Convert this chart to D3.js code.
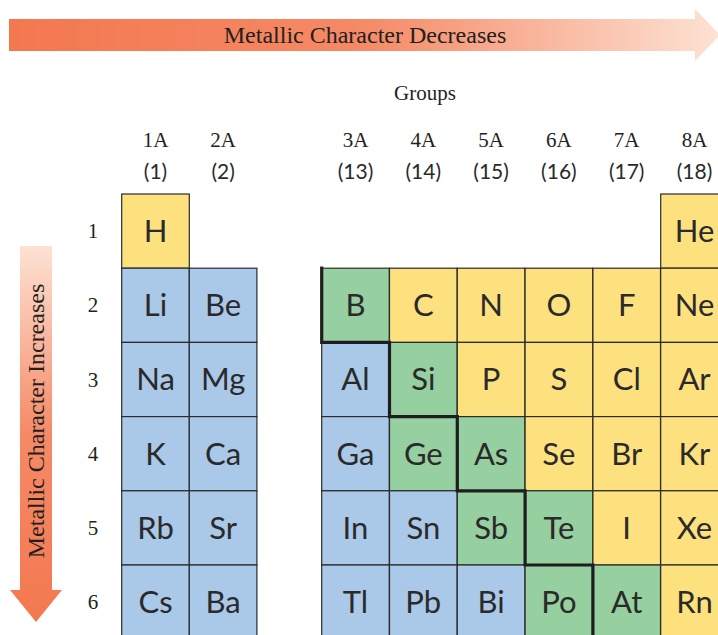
<!DOCTYPE html>
<html>
<head>
<meta charset="utf-8">
<script src="https://cdn.jsdelivr.net/npm/d3@7"></script>
<style>
  html, body { margin: 0; padding: 0; background: #fff; }
  svg { display: block; }
</style>
</head>
<body>
<svg id="chart" width="718" height="635"></svg>
<script>
// ---- data ----
const symbols = ["H","He",
  "Li","Be","B","C","N","O","F","Ne",
  "Na","Mg","Al","Si","P","S","Cl","Ar",
  "K","Ca","Ga","Ge","As","Se","Br","Kr",
  "Rb","Sr","In","Sn","Sb","Te","I","Xe",
  "Cs","Ba","Tl","Pb","Bi","Po","At","Rn"];
const groups = [1,18,
  1,2,13,14,15,16,17,18,
  1,2,13,14,15,16,17,18,
  1,2,13,14,15,16,17,18,
  1,2,13,14,15,16,17,18,
  1,2,13,14,15,16,17,18];
const periods = [1,1,
  2,2,2,2,2,2,2,2,
  3,3,3,3,3,3,3,3,
  4,4,4,4,4,4,4,4,
  5,5,5,5,5,5,5,5,
  6,6,6,6,6,6,6,6];
// n = nonmetal, m = metal, s = metalloid
const kinds = ["n","n",
  "m","m","s","n","n","n","n","n",
  "m","m","m","s","n","n","n","n",
  "m","m","m","s","s","n","n","n",
  "m","m","m","m","s","s","n","n",
  "m","m","m","m","m","s","s","n"];
const groupLabels = ["1A","2A","3A","4A","5A","6A","7A","8A"];
const groupNumbers = [1,2,13,14,15,16,17,18];
const periodLabels = [1,2,3,4,5,6];
// metalloid boundary: [group, period] corners of the staircase
const stairGroups = [13,13,14,14,15,15,16,16,17,17];
const stairPeriods = [2,3,3,4,4,5,5,6,6,7];

// ---- layout ----
const svg = d3.select("#chart");
const colorOf = d3.scaleOrdinal().domain(["n","m","s"]).range(["#fee17f","#aac8e8","#96cfa0"]);

const xLeft = d3.scaleLinear().domain([1,3]).range([121.7, 256.9]);
const xRight = d3.scaleLinear().domain([13,18]).range([321.7, 660.7]);
const x = g => g <= 2 ? xLeft(g) : xRight(g);
const cw = xLeft(2) - xLeft(1);
const y = d3.scaleLinear().domain([1,7]).range([194, 639.2]);
const rh = y(2) - y(1);

// ---- gradients ----
const defs = svg.append("defs");
const gH = defs.append("linearGradient").attr("id","gH").attr("x1","0").attr("x2","1").attr("y1","0").attr("y2","0");
gH.append("stop").attr("offset","0").attr("stop-color","#f37850");
gH.append("stop").attr("offset","0.5").attr("stop-color","#f58a66");
gH.append("stop").attr("offset","1").attr("stop-color","#fde2d4");
const gV = defs.append("linearGradient").attr("id","gV").attr("x1","0").attr("x2","0").attr("y1","0").attr("y2","1");
gV.append("stop").attr("offset","0").attr("stop-color","#fde2d4");
gV.append("stop").attr("offset","0.5").attr("stop-color","#f58a66");
gV.append("stop").attr("offset","1").attr("stop-color","#f37850");

// top arrow
svg.append("path")
  .attr("d","M9,19 L695,19 L695,9 L720,35 L695,61 L695,51 L9,51 Z")
  .attr("fill","url(#gH)");
svg.append("text").attr("x",365).attr("y",43)
  .attr("text-anchor","middle")
  .style("font-family","'Liberation Serif', serif").style("font-size","24px").attr("fill","#231f20")
  .text("Metallic Character Decreases");

// left arrow
svg.append("path")
  .attr("d","M20,246 L52,246 L52,590 L62,590 L36,622 L10,590 L20,590 Z")
  .attr("fill","url(#gV)");
svg.append("text")
  .attr("transform","translate(44,421) rotate(-90)")
  .attr("text-anchor","middle")
  .style("font-family","'Liberation Serif', serif").style("font-size","24px").attr("fill","#231f20")
  .text("Metallic Character Increases");

// Groups title
svg.append("text").attr("x",425).attr("y",100).attr("text-anchor","middle")
  .style("font-family","'Liberation Serif', serif").style("font-size","21px").attr("fill","#231f20")
  .text("Groups");

// group labels
const gl = svg.append("g");
groupNumbers.forEach((g,i) => {
  gl.append("text").attr("x", x(g) + cw/2).attr("y", 147).attr("text-anchor","middle")
    .style("font-family","'Liberation Serif', serif").style("font-size","21px").attr("fill","#231f20")
    .text(groupLabels[i]);
  gl.append("text").attr("x", x(g) + cw/2).attr("y", 179).attr("text-anchor","middle")
    .style("font-family","Lato, sans-serif").style("font-size","21px").attr("fill","#2a2a2a")
    .text("(" + g + ")");
});

// period labels
periodLabels.forEach(p => {
  svg.append("text").attr("x", 93).attr("y", y(p) + rh/2 + 7).attr("text-anchor","middle")
    .style("font-family","'Liberation Serif', serif").style("font-size","21px").attr("fill","#231f20")
    .text(p);
});

// cells
const data = symbols.map((s,i) => ({s, g: groups[i], p: periods[i], k: kinds[i]}));
const cells = svg.append("g").selectAll("g").data(data).join("g")
  .attr("transform", d => `translate(${x(d.g)},${y(d.p)})`);
cells.append("rect").attr("width", cw).attr("height", rh)
  .attr("fill", d => colorOf(d.k))
  .attr("stroke", "#2b2b2b").attr("stroke-width", 1.2);
cells.append("text").attr("x", cw/2).attr("y", rh/2 + 11).attr("text-anchor","middle")
  .style("font-family","Lato, sans-serif").style("font-size","31px").attr("fill","#2a2a2a")
  .text(d => d.s);

// staircase
const stairPts = stairGroups.map((g,i) => [x(g), y(stairPeriods[i])]);
svg.append("path").attr("d", d3.line()(stairPts))
  .attr("fill","none").attr("stroke","#1e1e1e").attr("stroke-width",3.2)
  .attr("stroke-linecap","square");
</script>
</body>
</html>
